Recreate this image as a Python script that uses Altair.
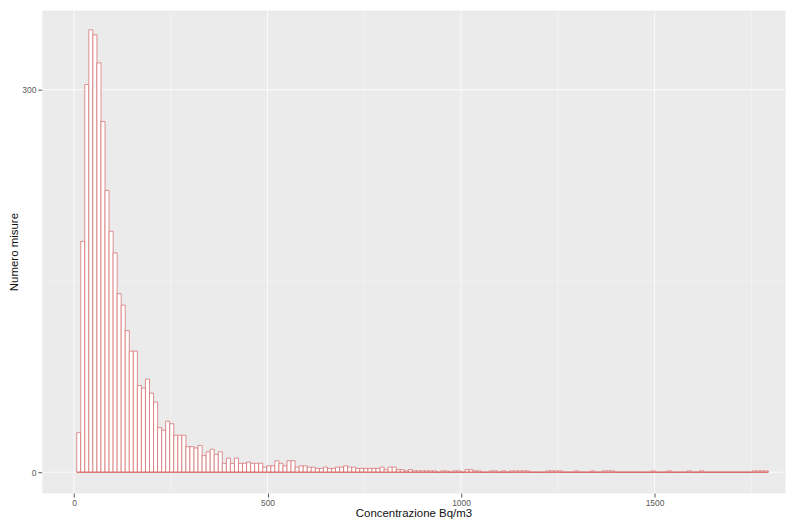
import altair as alt
import pandas as pd

# Histogram counts, one per bin
counts = [
    31, 181, 304, 347, 343, 321, 275, 221, 189, 172,
    140, 131, 111, 95, 95, 68, 66, 73, 62, 55,
    35, 33, 40, 38, 29, 29, 29, 20, 20, 19,
    21, 13, 16, 18, 14, 16, 7, 11, 7, 11,
    7, 7, 8, 7, 7, 7, 4, 5, 5, 9,
    7, 5, 9, 9, 4, 5, 5, 4, 4, 3,
    3, 4, 3, 3, 4, 4, 5, 4, 4, 3,
    3, 3, 3, 3, 3, 4, 2, 4, 4, 2,
    2, 1, 2, 1, 1, 1, 1, 1, 1, 0,
    1, 1, 0, 1, 1, 0, 2, 2, 1, 1,
    0, 0, 1, 1, 0, 1, 0, 1, 1, 1,
    1, 1, 0, 0, 0, 0, 1, 1, 1, 1,
    0, 0, 0, 1, 0, 0, 0, 1, 0, 0,
    1, 1, 1, 0, 0, 0, 0, 0, 0, 0,
    0, 0, 1, 0, 0, 0, 1, 0, 0, 0,
    0, 1, 0, 0, 1, 0, 0, 0, 0, 0,
    0, 0, 0, 0, 0, 0, 0, 1, 1, 1,
    1,
]
first_edge = 7.0
bin_width = 10.45

x_major = [0, 500, 1000, 1500]
x_minor = [250, 750, 1250, 1750]
y_major = [0, 300]
y_minor = [150]

starts = [first_edge + i * bin_width for i in range(len(counts))]
ends = [s + bin_width for s in starts]
bars = pd.DataFrame({"start": starts, "end": ends, "count": counts})
base_df = pd.DataFrame({"start": [starts[0]], "end": [ends[-1]], "count": [0]})

FONT = "Liberation Sans"
BAR_COLOR = "#D46464"
xscale = alt.Scale(domain=[-83, 1837], nice=False, zero=False)
yscale = alt.Scale(domain=[-16.4, 362.5], nice=False, zero=False)

xaxis = alt.Axis(
    values=x_major, format="d", grid=False, domain=False, tickColor="#555555", tickSize=4,
    labelColor="#5A5A5A", labelFontSize=8.5, labelFont=FONT, labelPadding=1,
    title="Concentrazione Bq/m3", titleFont=FONT, titleFontSize=11.5,
    titleFontWeight="normal", titleColor="#111111", titlePadding=1,
)
yaxis = alt.Axis(
    values=y_major, format="d", grid=False, domain=False, tickColor="#555555", tickSize=4,
    labelColor="#5A5A5A", labelFontSize=8.5, labelFont=FONT, labelPadding=2,
    title="Numero misure", titleFont=FONT, titleFontSize=11.5,
    titleFontWeight="normal", titleColor="#111111", titlePadding=2,
)

xminor_df = pd.DataFrame({"v": x_minor})
xmajor_df = pd.DataFrame({"v": x_major})
yminor_df = pd.DataFrame({"v": y_minor})
ymajor_df = pd.DataFrame({"v": y_major})

g_xminor = alt.Chart(xminor_df).mark_rule(color="#F7F7F7", strokeWidth=0.6).encode(
    x=alt.X("v:Q", scale=xscale, axis=xaxis))
g_xmajor = alt.Chart(xmajor_df).mark_rule(color="#FAFAFA", strokeWidth=1.0).encode(
    x=alt.X("v:Q", scale=xscale))
g_yminor = alt.Chart(yminor_df).mark_rule(color="#F7F7F7", strokeWidth=0.6).encode(
    y=alt.Y("v:Q", scale=yscale, axis=yaxis))
g_ymajor = alt.Chart(ymajor_df).mark_rule(color="#FAFAFA", strokeWidth=1.0).encode(
    y=alt.Y("v:Q", scale=yscale))

hist = alt.Chart(bars).mark_rect(fill="white", stroke=BAR_COLOR, strokeWidth=0.7).encode(
    x=alt.X("start:Q", scale=xscale),
    x2="end:Q",
    y=alt.Y("count:Q", scale=yscale),
    y2=alt.datum(0),
)
baseline = alt.Chart(base_df).mark_rule(color=BAR_COLOR, strokeWidth=1.0).encode(
    x=alt.X("start:Q", scale=xscale),
    x2="end:Q",
    y=alt.Y("count:Q", scale=yscale),
)

chart = alt.layer(g_xminor, g_xmajor, g_yminor, g_ymajor, hist, baseline).properties(
    width=746, height=485, padding={"left": 0, "top": 0, "right": 0, "bottom": 0},
    background="white",
).configure_view(fill="#EBEBEB", stroke="transparent")

chart.save("out.html", embed_options={"renderer": "svg", "actions": False})
